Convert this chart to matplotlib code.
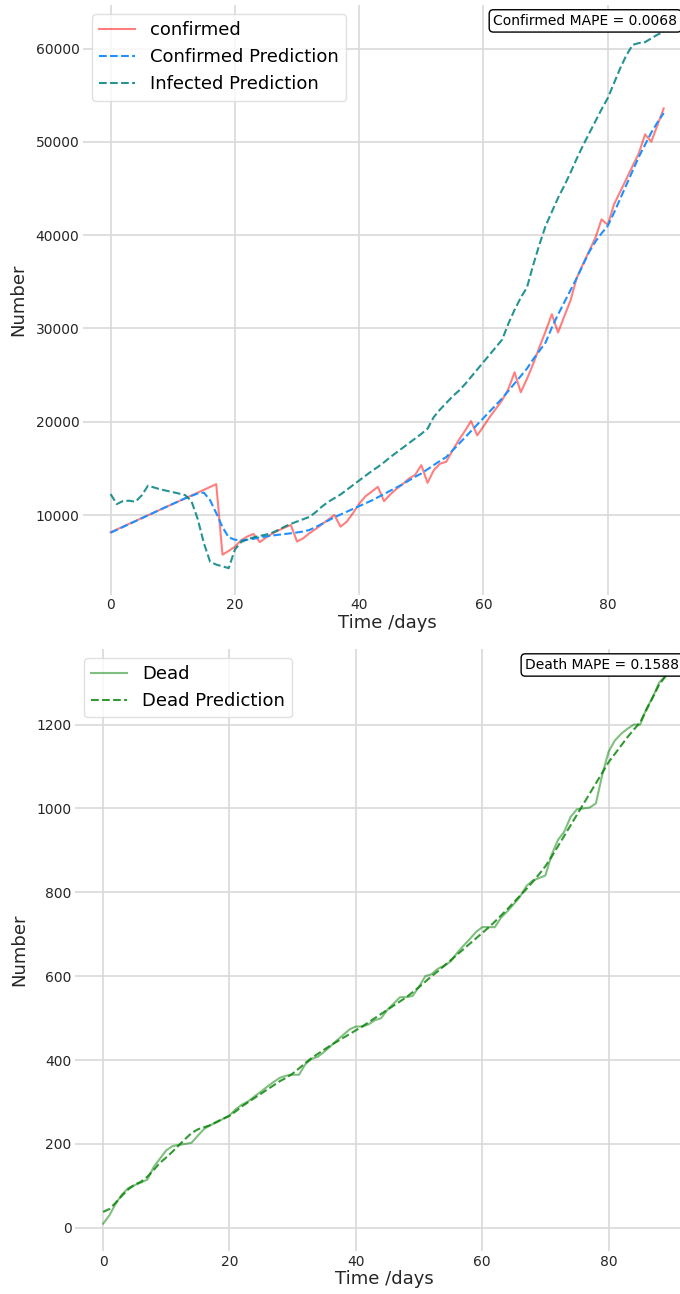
import numpy as np
import matplotlib.pyplot as plt

days = np.arange(90)

confirmed = [8150, 8450, 8760, 9060, 9360, 9670, 9970, 10270, 10580, 10880,
             11180, 11480, 11790, 12090, 12390, 12700, 13000, 13310, 5750, 6150,
             6600, 7300, 7700, 7970, 7090, 7580, 8000, 8350, 8650, 8930,
             7150, 7510, 8050, 8500, 9000, 9500, 10000, 8750, 9290, 10200,
             11200, 12000, 12500, 13020, 11490, 12200, 12800, 13300, 13900, 14300,
             15340, 13450, 14800, 15500, 15700, 16900, 18000, 19000, 20070, 18540,
             19500, 20500, 21400, 22300, 23500, 25300, 23160, 24600, 26200, 28000,
             29700, 31530, 29570, 31300, 33000, 35400, 36900, 38300, 39700, 41700,
             41100, 43300, 44660, 46040, 47420, 48790, 50810, 50030, 51800, 53590]

confirmed_pred = [8100, 8410, 8720, 9030, 9340, 9650, 9960, 10270, 10580, 10890,
                  11190, 11490, 11790, 12050, 12300, 12400, 11600, 10200, 8700, 7600,
                  7350, 7260, 7350, 7450, 7600, 7700, 7800, 7880, 7960, 8040,
                  8130, 8230, 8400, 8700, 9050, 9400, 9750, 10050, 10350, 10650,
                  10950, 11250, 11550, 11900, 12250, 12600, 12950, 13300, 13700, 14100,
                  14450, 14900, 15350, 15800, 16200, 16900, 17600, 18300, 19000, 19700,
                  20400, 21100, 21800, 22500, 23300, 24100, 24900, 25700, 26700, 27600,
                  28500, 30100, 31500, 32800, 34100, 35400, 36800, 38200, 39300, 40200,
                  41000, 42400, 43900, 45400, 46900, 48400, 49700, 51000, 52100, 53100]

infected_pred = [12240, 11170, 11500, 11530, 11420, 12100, 13130, 12950, 12750, 12600,
                 12450, 12300, 12130, 11500, 9600, 7000, 5000, 4680, 4500, 4300,
                 6300, 7100, 7400, 7600, 7750, 7900, 8100, 8400, 8750, 9050,
                 9300, 9550, 9800, 10300, 10900, 11400, 11800, 12200, 12700, 13200,
                 13700, 14200, 14700, 15150, 15650, 16200, 16700, 17200, 17700, 18200,
                 18700, 19250, 20500, 21300, 22000, 22700, 23300, 24000, 24800, 25600,
                 26400, 27200, 28000, 28800, 30500, 32000, 33300, 34400, 36800, 39000,
                 41000, 42500, 44000, 45300, 46700, 48200, 49600, 50900, 52200, 53500,
                 54700, 56300, 57900, 59300, 60400, 60600, 60700, 61100, 61500, 61800]

dead = [10, 30, 58, 80, 95, 102, 108, 115, 145, 165,
        185, 195, 198, 200, 203, 220, 236, 245, 252, 260,
        268, 283, 294, 302, 314, 325, 337, 348, 358, 363,
        365, 365, 390, 403, 408, 420, 433, 447, 460, 473,
        480, 480, 485, 495, 500, 520, 535, 550, 550, 553,
        575, 600, 605, 618, 625, 635, 655, 672, 688, 705,
        717, 717, 717, 740, 755, 772, 790, 815, 828, 834,
        840, 890, 925, 945, 980, 998, 1000, 1002, 1012, 1080,
        1135, 1162, 1178, 1190, 1200, 1200, 1238, 1265, 1300, 1315]

dead_pred = [38, 45, 60, 77, 92, 103, 110, 122, 138, 155,
             168, 182, 197, 212, 226, 235, 240, 245, 253, 260,
             267, 278, 290, 300, 310, 320, 330, 340, 350, 358,
             368, 380, 393, 405, 415, 425, 435, 444, 453, 462,
             471, 480, 490, 500, 510, 520, 530, 540, 550, 562,
             574, 587, 600, 612, 625, 638, 651, 664, 677, 690,
             703, 716, 730, 745, 760, 776, 792, 808, 825, 843,
             862, 885, 910, 935, 960, 985, 1010, 1035, 1060, 1085,
             1110, 1130, 1150, 1170, 1188, 1205, 1235, 1265, 1295, 1315]

confirmed_mape = 0.0068
death_mape = 0.1588


def style_axes(ax):
    for s in ax.spines.values():
        s.set_visible(False)
    ax.grid(True, color='0.85', linewidth=1.2)
    ax.set_axisbelow(True)
    ax.tick_params(length=0, labelsize=10, pad=2.5, colors='0.15')
    ax.set_xlabel("Time /days", fontsize=13, color='0.15', labelpad=1)
    ax.set_ylabel("Number", fontsize=13, color='0.15', labelpad=6)


fig = plt.figure(figsize=(6.8, 12.94), dpi=100)

ax1 = fig.add_axes([0.122, 0.5402, 0.8947, 0.4559])
ax1.plot(days, confirmed, color='red', alpha=0.5, lw=1.5, label='confirmed')
ax1.plot(days, confirmed_pred, '--', color='dodgerblue', lw=1.5, label='Confirmed Prediction')
ax1.plot(days, infected_pred, '--', color='teal', alpha=0.85, lw=1.5, label='Infected Prediction')
style_axes(ax1)
ax1.legend(loc='upper left', fontsize=13, framealpha=0.8, edgecolor='0.85')
ax1.text(0.977, 0.985, f"Confirmed MAPE = {confirmed_mape:.4f}", transform=ax1.transAxes,
         ha='right', va='top', fontsize=10,
         bbox=dict(boxstyle='round', facecolor='white', edgecolor='black'))

ax2 = fig.add_axes([0.1103, 0.0332, 0.9096, 0.4653])
ax2.plot(days, dead, color='green', alpha=0.5, lw=1.5, label='Dead')
ax2.plot(days, dead_pred, '--', color='green', alpha=0.8, lw=1.5, label='Dead Prediction')
style_axes(ax2)
ax2.legend(loc='upper left', fontsize=13, framealpha=0.8, edgecolor='0.85')
ax2.text(0.977, 0.985, f"Death MAPE = {death_mape:.4f}", transform=ax2.transAxes,
         ha='right', va='top', fontsize=10,
         bbox=dict(boxstyle='round', facecolor='white', edgecolor='black'))

fig.savefig('out.png', dpi=100)
